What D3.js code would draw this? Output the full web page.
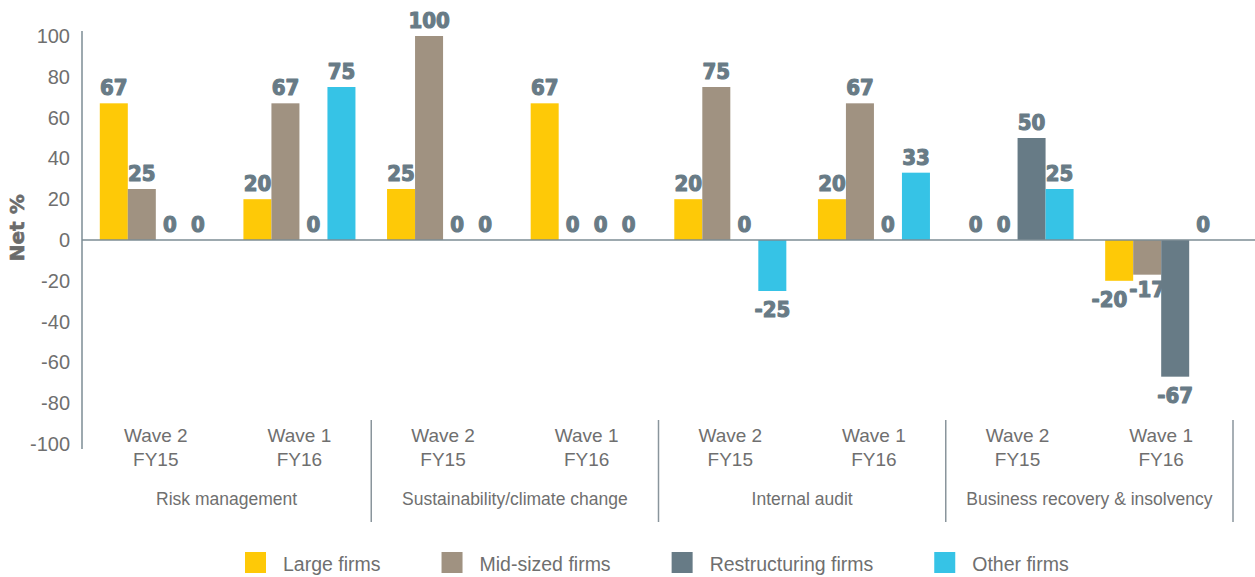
<!DOCTYPE html>
<html>
<head>
<meta charset="utf-8">
<script src="https://cdn.jsdelivr.net/npm/d3@7"></script>
<style>
  html, body { margin: 0; padding: 0; background: #ffffff; }
  svg { display: block; }
</style>
</head>
<body>
<svg id="chart" width="1255" height="577"></svg>
<script>
// ---- Data ----
const categories = ["Risk management", "Sustainability/climate change", "Internal audit", "Business recovery & insolvency"];
const waves = [["Wave 2", "FY15"], ["Wave 1", "FY16"]];
const seriesNames = ["Large firms", "Mid-sized firms", "Restructuring firms", "Other firms"];
// values per subgroup (category x wave), order: Large, Mid-sized, Restructuring, Other
const largeFirms         = [67, 20, 25, 67, 20, 20, 0, -20];
const midSizedFirms      = [25, 67, 100, 0, 75, 67, 0, -17];
const restructuringFirms = [0, 0, 0, 0, 0, 0, 50, -67];
const otherFirms         = [0, 75, 0, 0, -25, 33, 25, 0];
const yTicks = [-100, -80, -60, -40, -20, 0, 20, 40, 60, 80, 100];
const yAxisTitle = "Net %";

const colors = ["#fec907", "#a09281", "#677b86", "#36c3e6"];
const seriesValues = [largeFirms, midSizedFirms, restructuringFirms, otherFirms];
const fmt = v => String(v); // plain hyphen-minus like the reference

// ---- Build table ----
const subgroups = [];
categories.forEach((c, ci) => waves.forEach((w, wi) => subgroups.push({key: ci + "-" + wi, cat: c, ci, wave: w})));
subgroups.forEach((s, i) => {
  s.values = seriesNames.map((n, k) => ({series: n, k, v: seriesValues[k][i], sub: s.key}));
});

const svg = d3.select("#chart");
const textFont = "'Liberation Sans', Arial, Helvetica, sans-serif";
const textColor = "#6f6f6f";
const labelFont = "'DejaVu Sans Condensed', 'DejaVu Sans', sans-serif";
const labelColor = "#687b86";

// ---- Scales ----
const x0 = d3.scaleBand().domain(subgroups.map(d => d.key)).range([84, 1233]).paddingInner(0.22).paddingOuter(0.11);
const x1 = d3.scaleBand().domain(d3.range(seriesNames.length)).range([0, x0.bandwidth()]);
const y = d3.scaleLinear().domain([-100, 100]).range([444, 36]);
const axisX = 82;

// ---- Y axis ----
const yAxis = d3.axisLeft(y).tickValues(yTicks).tickSize(0).tickPadding(12).tickFormat(fmt);
const gy = svg.append("g").attr("transform", `translate(${axisX},0)`).call(yAxis);
gy.select(".domain").remove();
gy.selectAll("text").attr("font-family", textFont).attr("font-size", 20).attr("fill", textColor);
svg.append("line").attr("x1", axisX).attr("x2", axisX).attr("y1", y(100) - 5).attr("y2", y(-100) + 5)
  .attr("stroke", "#7d8c95").attr("stroke-width", 1.5);

svg.append("text").attr("transform", `translate(24,${y(6)}) rotate(-90)`)
  .attr("text-anchor", "middle").attr("font-family", "'DejaVu Sans', sans-serif").attr("font-weight", "bold")
  .attr("font-size", 20).attr("fill", "#6b6b6b").attr("stroke", "#6b6b6b").attr("stroke-width", 0.6)
  .text(yAxisTitle);

// ---- Bars ----
const groups = svg.append("g").selectAll("g").data(subgroups).join("g")
  .attr("transform", d => `translate(${x0(d.key)},0)`);
groups.selectAll("rect").data(d => d.values).join("rect")
  .attr("x", d => x1(d.k)).attr("width", x1.bandwidth())
  .attr("y", d => y(Math.max(0, d.v))).attr("height", d => Math.abs(y(d.v) - y(0)))
  .attr("fill", d => colors[d.k]);

// zero line
svg.append("line").attr("x1", axisX).attr("x2", 1255).attr("y1", y(0)).attr("y2", y(0))
  .attr("stroke", "#7d8c95").attr("stroke-width", 1.5);

// ---- Data labels ----
const labelGroups = groups.append("g");
labelGroups.each(function(g) {
  const sel = d3.select(this).selectAll("text").data(g.values).join("text")
    .attr("x", d => x1(d.k) + x1.bandwidth() / 2)
    .attr("y", d => d.v < 0 ? y(d.v) + 26 : y(d.v) - 8)
    .attr("text-anchor", "middle")
    .attr("font-family", labelFont).attr("font-weight", "bold").attr("font-size", 22)
    .attr("fill", labelColor).attr("stroke", labelColor).attr("stroke-width", 1.1)
    .attr("stroke-linejoin", "round")
    .text(d => fmt(d.v));
  // simple collision avoidance between neighbouring labels
  const nodes = sel.nodes();
  for (let i = nodes.length - 1; i > 0; i--) {
    const a = nodes[i - 1].getBBox(), b = nodes[i].getBBox();
    const hOver = a.x + a.width - b.x;
    const vOver = Math.min(a.y + a.height, b.y + b.height) - Math.max(a.y, b.y);
    if (hOver > 0 && vOver > 0) {
      const cur = +d3.select(nodes[i - 1]).attr("x");
      d3.select(nodes[i - 1]).attr("x", cur - hOver - 2);
      const cy = +d3.select(nodes[i]).attr("y");
      d3.select(nodes[i]).attr("y", cy - 4);
    }
  }
});

// ---- X axis labels ----
const xl = svg.append("g");
subgroups.forEach(s => {
  const cx = x0(s.key) + x0.bandwidth() / 2;
  s.wave.forEach((line, li) => {
    xl.append("text").attr("x", cx).attr("y", 442 + li * 23.5).attr("text-anchor", "middle")
      .attr("font-family", textFont).attr("font-size", 19).attr("fill", textColor).text(line);
  });
});
// category boundaries
const step = x0.step();
const gap = step - x0.bandwidth();
categories.forEach((c, ci) => {
  const mine = subgroups.filter(s => s.ci === ci);
  const first = mine[0], last = mine[mine.length - 1];
  const left = ci === 0 ? axisX : x0(first.key) - gap / 2;
  const right = x0(last.key) + x0.bandwidth() + gap / 2;
  xl.append("text").attr("x", (left + right) / 2).attr("y", 505).attr("text-anchor", "middle")
    .attr("font-family", textFont).attr("font-size", 17.5).attr("fill", textColor).text(c);
  xl.append("line").attr("x1", right).attr("x2", right).attr("y1", 420).attr("y2", 522)
    .attr("stroke", "#8a959c").attr("stroke-width", 1.5);
});

// ---- Legend ----
const legend = svg.append("g").attr("transform", "translate(245,0)");
let lx = 0;
seriesNames.forEach((n, k) => {
  const g = legend.append("g").attr("transform", `translate(${lx},0)`);
  g.append("rect").attr("x", 0).attr("y", 552).attr("width", 21).attr("height", 21).attr("fill", colors[k]);
  const t = g.append("text").attr("x", 38).attr("y", 571).attr("font-family", textFont).attr("font-size", 19.5)
    .attr("fill", textColor).text(n);
  const w = t.node().getComputedTextLength();
  lx += 38 + w + 61;
});
</script>
</body>
</html>
